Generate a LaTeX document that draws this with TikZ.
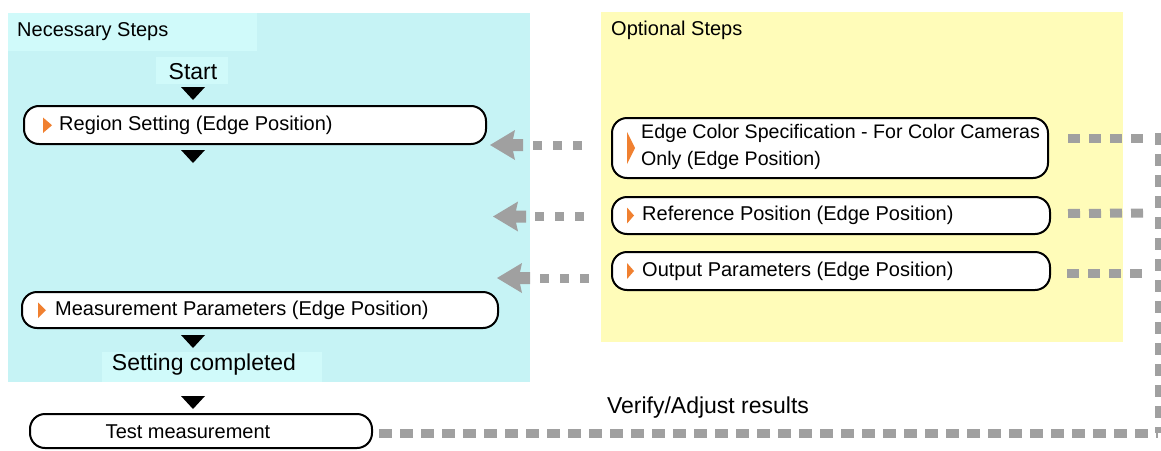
\documentclass[tikz,border=0pt]{standalone}
\usepackage{fontspec}
\setmainfont{Liberation Sans}
\usetikzlibrary{calc}
\definecolor{cyanbg}{RGB}{198,243,245}
\definecolor{cyanlt}{RGB}{208,250,250}
\definecolor{yellowbg}{RGB}{255,252,185}
\definecolor{orangetri}{RGB}{240,128,48}
\definecolor{dashgray}{RGB}{160,160,160}
\newcommand{\dtri}[2]{\fill[black] (#1-12,#2) -- (#1+12,#2) -- (#1,#2+13) -- cycle;}
\newcommand{\garrow}[2]{\fill[dashgray] (#1,#2) -- (#1+25,#2-15) -- (#1+23,#2-6) -- (#1+33,#2-6) -- (#1+33,#2+6) -- (#1+23,#2+6) -- (#1+25,#2+15) -- cycle;}
\begin{document}
\begin{tikzpicture}[x=1pt,y=-1pt,
  stepbox/.style={draw=black, line width=2pt, rounded corners=15pt, fill=white, inner sep=0pt},
  steptext/.style={anchor=west, inner sep=0pt, align=left, font=\fontsize{20}{27}\selectfont},
  hdr/.style={anchor=west, inner sep=0pt, font=\fontsize{20}{24}\selectfont},
  big/.style={inner sep=0pt, font=\fontsize{23}{27}\selectfont},
  ldash/.style={draw=dashgray, line width=9pt, dash pattern=on 9pt off 11pt},
  rdash/.style={draw=dashgray, line width=9pt, dash pattern=on 12pt off 9pt},
  vdash/.style={draw=dashgray, line width=7pt, dash pattern=on 12pt off 9pt},
  bdash/.style={draw=dashgray, line width=9pt, dash pattern=on 13pt off 8pt},
  marker/.style={fill=orangetri}
]
\useasboundingbox (0,0) rectangle (1161,450);
\fill[white] (0,0) rectangle (1161,450);
% panels
\fill[cyanbg] (8,13) rectangle (530,382);
\fill[cyanlt] (8,13) rectangle (257,51);
\fill[yellowbg] (601,12) rectangle (1123,342);
\node[hdr] (nec) at (17,32) {Necessary Steps};
\node[hdr] (opt) at (611,30) {Optional Steps};
% start / end labels
\fill[cyanlt] (156,57) rectangle (228,84);
\node[big] (start) at (193,72) {Start};
\fill[cyanlt] (102,352) rectangle (322,382);
\node[big] (done) at (204,365) {Setting completed};
% necessary boxes
\node[stepbox, minimum width=462pt, minimum height=38pt] (region) at (255,125) {};
\node[steptext] (regiont) at (59,125) {Region Setting (Edge Position)};
\fill[marker] (43,117.5) -- (43,133) -- (52,125.25) -- cycle;
\node[stepbox, minimum width=476pt, minimum height=36pt] (meas) at (260,310) {};
\node[steptext] (meast) at (55,310) {Measurement Parameters (Edge Position)};
\fill[marker] (38,302.5) -- (38,318) -- (46,310.25) -- cycle;
\node[stepbox, minimum width=342pt, minimum height=34pt] (test) at (201,431) {};
\node[steptext, anchor=center] (testt) at (188,432) {Test measurement};
% down triangles
\dtri{193}{87}
\dtri{193}{150}
\dtri{193}{335}
\dtri{193}{396}
% optional boxes
\node[stepbox, minimum width=436pt, minimum height=60pt] (ec) at (830,148) {};
\node[steptext, font=\fontsize{19.6}{27}\selectfont] (ect) at (641,147) {Edge Color Specification - For Color Cameras\\Only (Edge Position)};
\fill[marker] (627,132) -- (627,164) -- (635,148) -- cycle;
\node[stepbox, minimum width=438pt, minimum height=37pt] (ref) at (831,215.5) {};
\node[steptext] (reft) at (642,215.5) {Reference Position (Edge Position)};
\fill[marker] (627,207.5) -- (627,223.5) -- (634,215.5) -- cycle;
\node[stepbox, minimum width=438pt, minimum height=38pt] (out) at (831,271) {};
\node[steptext] (outt) at (642,271) {Output Parameters (Edge Position)};
\fill[marker] (627,263) -- (627,279) -- (634,271) -- cycle;
% left arrows
\coordinate (a1) at (490,145);
\coordinate (a2) at (493,216.5);
\coordinate (a3) at (497,278);
\draw[ldash] ($(ec.west)+(-29,-3)$) -- ($(a1)+(43,0)$);
\garrow{490}{145}
\draw[ldash] ($(ref.west)+(-27,1)$) -- ($(a2)+(42,0)$);
\garrow{493}{216.5}
\draw[ldash] ($(out.west)+(-22,7)$) -- ($(a3)+(43,0)$);
\garrow{497}{278}
% right dashes
\coordinate (vt) at (1158,133);
\coordinate (vb) at (1158,433);
\draw[rdash] ($(ec.east)+(19,-10)$) -- ($(vt)+(-15,5)$);
\draw[rdash] ($(ref.east)+(17,-2)$) -- ($(vt)+(-15,80)$);
\draw[rdash] ($(out.east)+(16,2)$) -- ($(vt)+(-15,140)$);
\draw[vdash] (vt) -- (vb);
\draw[bdash] ($(test.east)+(6,2)$) -- (vb);
\node[big] (verify) at (708,408) {Verify/Adjust results};
\end{tikzpicture}
\end{document}
